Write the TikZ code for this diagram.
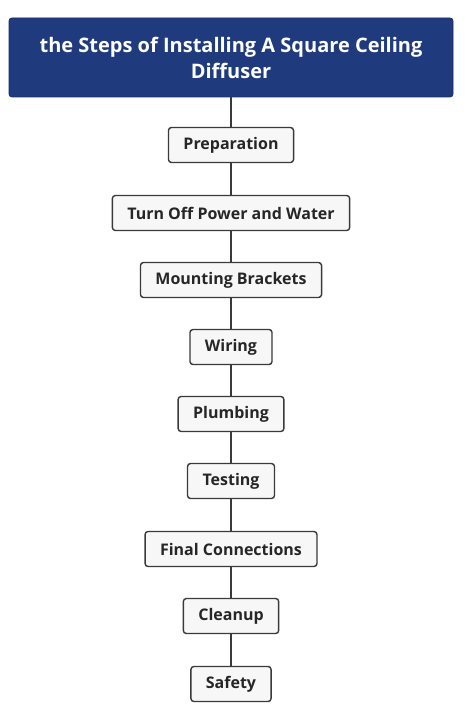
\documentclass[tikz,border=0pt]{standalone}
\usepackage{fontspec}
\setmainfont{Open Sans}
\definecolor{titleblue}{HTML}{1F3A7D}
\definecolor{boxfill}{HTML}{F7F7F7}
\definecolor{boxline}{HTML}{3A3A3A}
\begin{document}
\begin{tikzpicture}[x=1pt,y=-1pt,
  titlebox/.style={draw=titleblue!80!black,fill=titleblue,rounded corners=3pt,line width=0.8pt,
    minimum width=444pt,minimum height=79pt,text=white,align=center,
    font=\fontsize{20}{26}\selectfont\bfseries},
  stepbox/.style={draw=boxline,fill=boxfill,rounded corners=3pt,line width=1.4pt,
    minimum height=35pt,inner xsep=15pt,text=black!85,
    font=\fontsize{16}{18}\selectfont\bfseries},
  link/.style={draw=boxline,line width=1.4pt}]
\useasboundingbox (0,0) rectangle (474,719);
\node[titlebox] (t) at (231,57.5) {the Steps of Installing A Square Ceiling\\Diffuser};
\node[stepbox] (s1) at (231,145) {Preparation};
\node[stepbox] (s2) at (231,213) {Turn Off Power and Water};
\node[stepbox] (s3) at (231,280) {Mounting Brackets};
\node[stepbox] (s4) at (231,347) {Wiring};
\node[stepbox] (s5) at (231,414) {Plumbing};
\node[stepbox] (s6) at (231,481) {Testing};
\node[stepbox] (s7) at (231,549) {Final Connections};
\node[stepbox] (s8) at (231,616) {Cleanup};
\node[stepbox] (s9) at (231,684) {Safety};
\draw[link] (t.south) -- (s1.north);
\draw[link] (s1.south) -- (s2.north);
\draw[link] (s2.south) -- (s3.north);
\draw[link] (s3.south) -- (s4.north);
\draw[link] (s4.south) -- (s5.north);
\draw[link] (s5.south) -- (s6.north);
\draw[link] (s6.south) -- (s7.north);
\draw[link] (s7.south) -- (s8.north);
\draw[link] (s8.south) -- (s9.north);
\end{tikzpicture}
\end{document}
